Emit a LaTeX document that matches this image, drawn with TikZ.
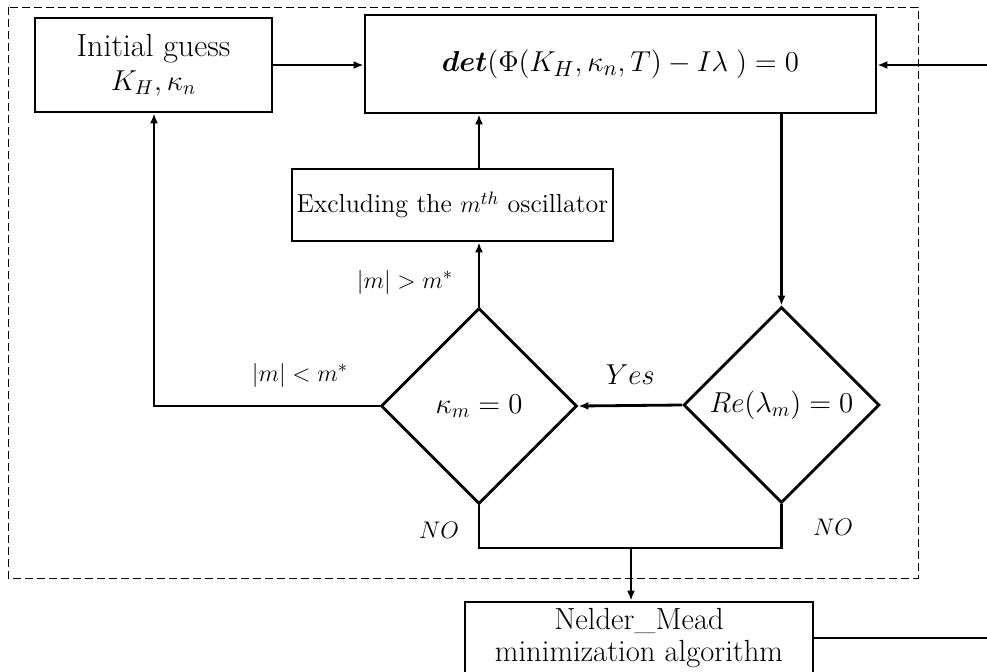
\documentclass[tikz,border=0pt]{standalone}
\usepackage{amsmath,bm}
\usetikzlibrary{shapes.geometric,arrows.meta}
\begin{document}
\begin{tikzpicture}[x=0.5pt,y=-0.5pt,
  every node/.style={font=\fontsize{13}{15}\selectfont},
  box/.style={draw,line width=1.4pt,rectangle,inner sep=0pt,align=center},
  dia/.style={draw,line width=1.4pt,diamond,aspect=1,inner sep=0pt,minimum width=98pt,minimum height=98pt,font=\fontsize{14.5}{16}\selectfont},
  conn/.style={line width=1.4pt},
  arr/.style={line width=1.4pt,-{Latex[length=5pt,width=4pt]}},
  lbl/.style={inner sep=1pt}]
\useasboundingbox (0,0) rectangle (987,671);
\draw[dashed,line width=0.5pt,dash pattern=on 4pt off 2pt] (8,7) rectangle (918,578);
\node[box,minimum width=118.5pt,minimum height=47pt] (init) at (153.5,65) {{\fontsize{16}{18}\selectfont Initial guess}\\[2pt]{\fontsize{14.5}{16}\selectfont$K_H,\kappa_n$}};
\node[box,minimum width=255.5pt,minimum height=49pt] (det) at (620.5,64) {\fontsize{15.3}{17}\selectfont$\bm{det}(\Phi(K_H,\kappa_n,T)-I\lambda\;)=0$};
\node[box,minimum width=160.5pt,minimum height=36pt] (excl) at (452.5,205) {Excluding the $m^{th}$ oscillator};
\node[dia] (km) at (479,406) {$\kappa_m=0$};
\node[dia] (re) at (781.5,405) {$Re(\lambda_m)=0$};
\node[box,minimum width=174pt,minimum height=36pt,font=\fontsize{15.3}{17}\selectfont] (nm) at (639,638) {Nelder\_Mead\\[-1pt]minimization algorithm};
\coordinate (inR) at (987,65);
\coordinate (outR) at (987,638);
\coordinate (join) at (631,548);
\draw[arr] (init.east |- 0,65) -- (det.west |- 0,65);
\draw[arr] (inR) -- (det.east |- inR);
\draw[arr] (det.south -| re.north) -- (re.north);
\draw[arr] (re.west) -- node[lbl,above=9pt,font=\fontsize{14.5}{16}\selectfont] {$Yes$} (km.east);
\draw[arr] (km.north) -- (excl.south -| km.north);
\draw[arr] (excl.north -| km.north) -- (det.south -| km.north);
\draw[arr] (km.west) -- (154,406) -- (init.south -| 154,0);
\draw[conn] (km.south) -- (km.south |- join) -- (re.south |- join) -- (re.south);
\draw[arr] (join) -- (nm.north -| join);
\draw[conn] (nm.east |- outR) -- (outR);
\node[lbl] (l1) at (405,282) {$|m|>m^{*}$};
\node[lbl] (l2) at (300,375) {$|m|<m^{*}$};
\node[lbl] (n1) at (439,530) {$NO$};
\node[lbl] (n2) at (833,527) {$NO$};
\end{tikzpicture}
\end{document}
